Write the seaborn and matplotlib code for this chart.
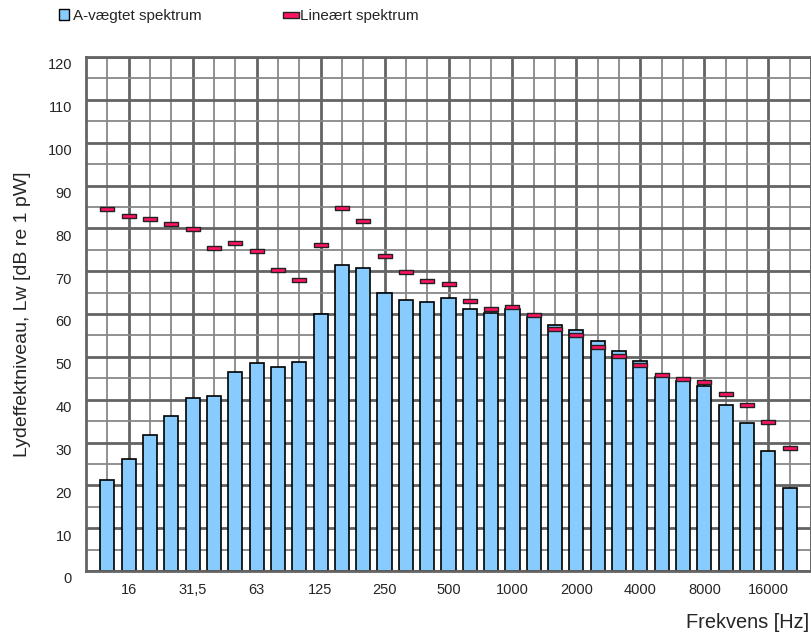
import numpy as np
import pandas as pd
import matplotlib
matplotlib.use("Agg")
import matplotlib.pyplot as plt
import seaborn as sns
from matplotlib.path import Path
from matplotlib.patches import Patch
from matplotlib.lines import Line2D
from matplotlib.transforms import ScaledTranslation

# 1/3-oktav baand 12,5 Hz - 20 kHz
bands = ["12,5", "16", "20", "25", "31,5", "40", "50", "63", "80", "100",
         "125", "160", "200", "250", "315", "400", "500", "630", "800", "1000",
         "1250", "1600", "2000", "2500", "3150", "4000", "5000", "6300", "8000",
         "10000", "12500", "16000", "20000"]
a_weighted = [21.3, 26.2, 31.7, 36.2, 40.5, 40.8, 46.4, 48.6, 47.6, 48.8,
              60.0, 71.4, 70.7, 65.0, 63.3, 62.8, 63.7, 61.2, 60.3, 61.1,
              59.2, 57.5, 56.2, 53.6, 51.3, 49.0, 45.4, 44.4, 43.1, 38.8,
              34.5, 28.1, 19.3]
linear = [84.4, 82.8, 82.1, 80.9, 79.9, 75.3, 76.6, 74.8, 70.2, 68.0,
          76.1, 84.8, 81.6, 73.6, 69.9, 67.6, 66.9, 63.1, 61.1, 61.7,
          59.8, 56.5, 55.0, 52.4, 50.1, 48.0, 45.8, 44.8, 44.2, 41.3,
          38.8, 34.7, 28.7]
tick_labels = ["16", "31,5", "63", "125", "250", "500", "1000", "2000",
               "4000", "8000", "16000"]

df = pd.DataFrame({"band": bands, "A": a_weighted, "lin": linear})
df["pos"] = np.arange(len(bands))

sns.set_style("white")
plt.rcParams["font.family"] = ["Liberation Sans", "DejaVu Sans"]

bar_color = "#88CCFF"
mark_color = "#FF1463"
grid_dark = "#646464"
grid_light = "#888888"

fig = plt.figure(figsize=(8.12, 6.35), dpi=100)
ax = fig.add_axes([86 / 812, 1 - 571 / 635, (811 - 86) / 812, (571 - 57) / 635])

sns.barplot(data=df, x="band", y="A", color=bar_color, saturation=1,
            width=0.66, edgecolor="black", linewidth=1.2, ax=ax, zorder=2)

rect = Path([(-1.5, -0.5), (1.5, -0.5), (1.5, 0.5), (-1.5, 0.5), (-1.5, -0.5)],
            [Path.MOVETO, Path.LINETO, Path.LINETO, Path.LINETO, Path.CLOSEPOLY])
sns.scatterplot(data=df, x="pos", y="lin", marker=rect, s=95, color=mark_color,
                edgecolor="#222222", linewidth=1.0, ax=ax, zorder=3, legend=False)

ax.set_xlim(-1, len(bands))
ax.set_ylim(0, 120)

major_x = [i for i in range(-1, len(bands) + 1) if i % 3 == 1]
minor_x = [i for i in range(-1, len(bands) + 1) if i % 3 != 1]
ax.set_xticks(major_x[:len(tick_labels)])
ax.set_xticklabels(tick_labels, fontsize=10.5)
ax.set_xticks(minor_x, minor=True)
ax.set_yticks(np.arange(0, 121, 10))
ax.set_yticklabels([str(v) for v in range(0, 121, 10)], fontsize=10.5)
ax.set_yticks(np.arange(5, 120, 10), minor=True)

# tykke linjer for hver oktav / 10 dB
for x in major_x:
    ax.axvline(x, color=grid_dark, lw=2.0, zorder=0)
for x in minor_x:
    ax.axvline(x, color=grid_light, lw=1.3, zorder=0)
for y in range(0, 121, 10):
    ax.axhline(y, color=grid_dark, lw=2.0, zorder=0)
for y in range(5, 120, 10):
    ax.axhline(y, color=grid_light, lw=1.3, zorder=0)

ax.tick_params(axis="both", which="both", length=0)
ax.tick_params(axis="x", pad=9)
ax.tick_params(axis="y", pad=10)
for lab in ax.get_yticklabels():
    lab.set_transform(lab.get_transform() + ScaledTranslation(0, -5 / 72, fig.dpi_scale_trans))

for s in ax.spines.values():
    s.set_color(grid_dark)
    s.set_linewidth(2.0)

ax.set_xlabel("")
ax.set_ylabel("")
fig.text(23 / 812, 1 - 314 / 635, "Lydeffektniveau, Lw [dB re 1 pW]",
         rotation=90, ha="center", va="center", fontsize=14)
fig.text(809 / 812, 1 - 622 / 635, "Frekvens [Hz]", ha="right", va="center",
         fontsize=14.4)

handles = [Patch(facecolor=bar_color, edgecolor="black", linewidth=1.0),
           Line2D([], [], marker=rect, markersize=11, color=mark_color,
                  markeredgecolor="#222222", markeredgewidth=1.0, linestyle="none")]
fig.legend(handles, ["A-vægtet spektrum", "Lineært spektrum"], ncol=2,
           loc="center left", bbox_to_anchor=(45 / 812, 1 - 16 / 635),
           frameon=False, fontsize=11, handlelength=0.65, handleheight=0.7,
           handletextpad=0.3, columnspacing=5.5)

fig.savefig("out.png", dpi=100)
